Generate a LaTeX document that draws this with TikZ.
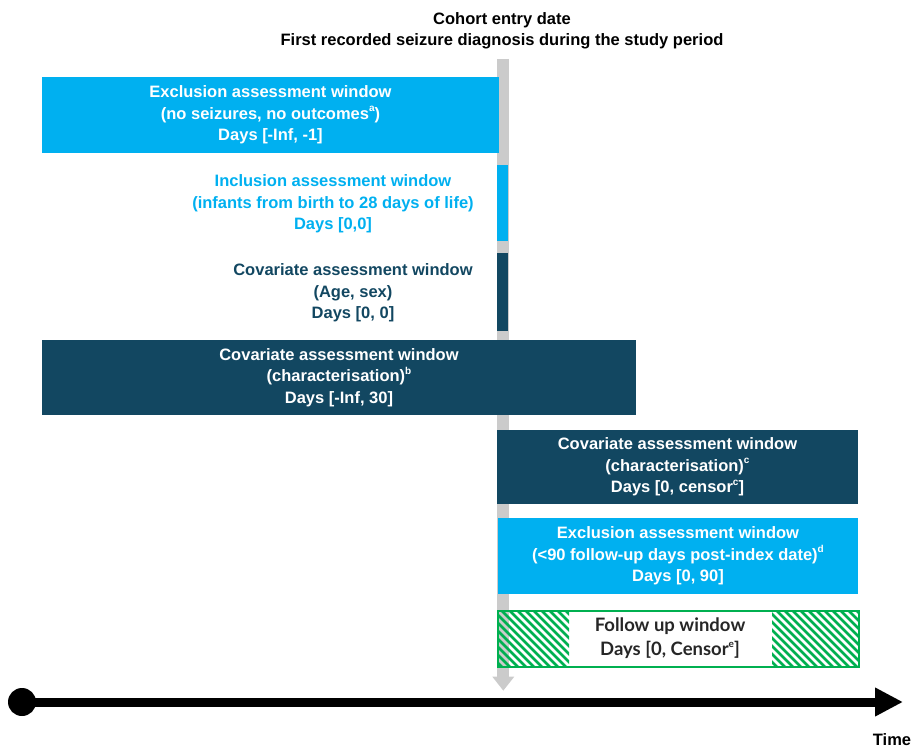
\documentclass[tikz,border=0pt]{standalone}
\usepackage{fontspec}
\setmainfont{Liberation Sans}
\newfontfamily\fufont{Lato}
\usetikzlibrary{arrows.meta}
\definecolor{lblue}{HTML}{00B0F0}
\definecolor{dblue}{HTML}{124761}
\definecolor{greyc}{HTML}{CBCBCB}
\definecolor{hgreen}{HTML}{00B050}
\definecolor{fugrey}{HTML}{262626}
\newcommand{\supr}[1]{\raisebox{0.45em}{\fontsize{10}{10}\selectfont #1}}
\tikzset{
  win/.style={inner sep=0pt, align=center, text=white},
  lbox/.style={win, fill=lblue},
  dbox/.style={win, fill=dblue},
  txt/.style={inner sep=0pt, align=center},
}
\begin{document}
\begin{tikzpicture}[x=1pt,y=-1pt,font=\fontsize{16.5}{21.5}\selectfont\bfseries]
\useasboundingbox (0,0) rectangle (914,749);
% title
\node[txt] (title) at (502,31) {Cohort entry date\\First recorded seizure diagnosis during the study period};
% grey index arrow
\coordinate (gtop) at (503.3,59);
\coordinate (gbot) at (503.3,690.7);
\draw[greyc, line width=12pt, -{Triangle[length=14pt,width=21pt]}] (gtop) -- (gbot);
% boxes
\node[lbox, minimum width=457, minimum height=76] (excl1) at (270.5,115)
  {Exclusion assessment window\\(no seizures, no outcomes\supr{a})\\Days [-Inf, -1]};
\node[fill=lblue, inner sep=0pt, minimum width=11, minimum height=76] (inclbar) at (502.5,203) {};
\node[txt, text=lblue] (incltext) at (333,204)
  {Inclusion assessment window\\(infants from birth to 28 days of life)\\Days [0,0]};
\node[fill=dblue, inner sep=0pt, minimum width=11, minimum height=78] (agebar) at (502.5,292) {};
\node[txt, text=dblue] (agetext) at (353,293)
  {Covariate assessment window\\(Age, sex)\\Days [0, 0]};
\node[dbox, minimum width=594, minimum height=75] (cov1) at (339,377.5)
  {Covariate assessment window\\(characterisation)\supr{b}\\Days [-Inf, 30]};
\node[dbox, minimum width=361, minimum height=74] (cov2) at (677.5,467)
  {Covariate assessment window\\(characterisation)\supr{c}\\Days [0, censor\supr{c}]};
\node[lbox, minimum width=360, minimum height=76] (excl2) at (678,556)
  {Exclusion assessment window\\(<90 follow-up days post-index date)\supr{d}\\Days [0, 90]};
% follow up window hatching
\begin{scope}
  \clip (498,611) rectangle (569,667);
  \foreach \i in {0,...,17} \draw[hgreen, line width=2.6pt] (430+8*\i,611) -- ++(60,60);
\end{scope}
\begin{scope}
  \clip (772,611) rectangle (859,667);
  \foreach \i in {0,...,19} \draw[hgreen, line width=2.6pt] (705+8*\i,611) -- ++(60,60);
\end{scope}
\node[draw=hgreen, line width=1.2pt, inner sep=0pt, minimum width=361, minimum height=56] (fu) at (678.5,639) {};
\node[txt, text=fugrey, font=\fufont\fontsize{18.5}{24}\selectfont\bfseries] (futext) at (670,638)
  {Follow up window\\Days [0, Censor\supr{e}]};
% timeline
\node[circle, fill=black, inner sep=0pt, minimum size=28] (tstart) at (22,702) {};
\coordinate (tend) at (903,702);
\draw[line width=9pt, -{Triangle[length=28pt,width=27pt]}] (tstart.center) -- (tend);
\node[txt] (time) at (892,740) {Time};
\end{tikzpicture}
\end{document}
